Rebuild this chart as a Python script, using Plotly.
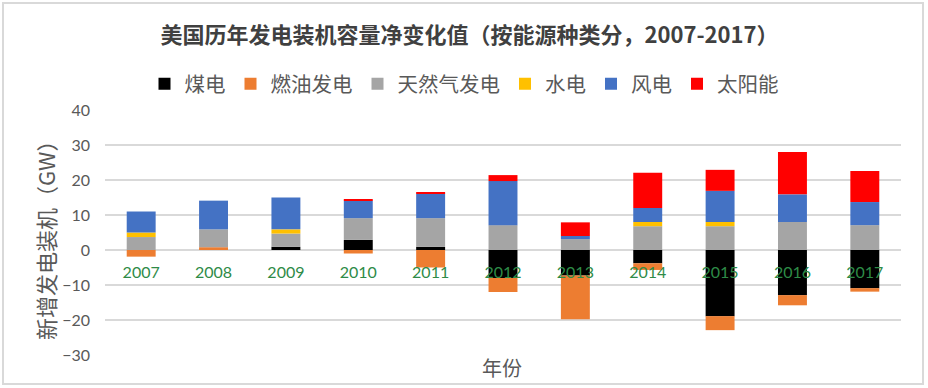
import plotly.graph_objects as go

years = ["2007", "2008", "2009", "2010", "2011", "2012", "2013", "2014", "2015", "2016", "2017"]
coal = [0.0, 0.0, 0.9, 2.9, 0.9, -8.0, -7.3, -3.8, -18.9, -12.9, -10.9]
oil = [-1.9, 0.8, 0.0, -1.0, -5.0, -4.0, -12.5, -1.9, -4.0, -2.9, -1.0]
gas = [3.7, 5.1, 3.8, 6.2, 8.2, 7.1, 3.1, 6.8, 6.8, 8.0, 7.1]
hydro = [1.3, 0.0, 1.2, 0.0, 0.0, 0.0, 0.0, 1.2, 1.2, 0.0, 0.0]
wind = [6.0, 8.2, 9.1, 5.0, 7.0, 12.6, 0.9, 4.0, 8.9, 7.9, 6.6]
solar = [0.0, 0.0, 0.0, 0.4, 0.3, 1.7, 3.9, 10.1, 6.0, 12.1, 8.9]

series = [
    ("煤电", coal, "#000000"),
    ("燃油发电", oil, "#ED7D31"),
    ("天然气发电", gas, "#A5A5A5"),
    ("水电", hydro, "#FFC000"),
    ("风电", wind, "#4472C4"),
    ("太阳能", solar, "#FF0000"),
]

CJK = "Noto Sans CJK SC"
NUM = "Lato, 'Noto Sans CJK SC'"

fig = go.Figure()
for name, vals, col in series:
    fig.add_trace(go.Bar(x=years, y=vals, name=name, marker=dict(color=col, line=dict(width=0)),
                         width=0.4))

ymin, ymax = -30, 40
fig.update_layout(
    width=928, height=388,
    barmode="relative",
    paper_bgcolor="white", plot_bgcolor="white",
    margin=dict(l=105, r=27, t=110, b=33, autoexpand=False),
    title=dict(text="<b>美国历年发电装机容量净变化值（按能源种类分，2007-2017）</b>",
               x=0.506, xanchor="center", y=1 - 35 / 388, yanchor="middle",
               font=dict(family=CJK, size=22, color="#404040")),
    legend=dict(orientation="h", xref="container", yref="container",
                x=0.5, xanchor="center", y=1 - 84 / 388, yanchor="middle",
                font=dict(family=CJK, size=20.5, color="#595959"),
                traceorder="normal", itemwidth=30),
    xaxis=dict(type="category", range=[-0.5, 10.5], anchor="free",
               position=(0 - ymin) / (ymax - ymin), showline=False, ticks="",
               showgrid=False, tickfont=dict(family=NUM, size=16, color="#2E8B47"),
               ticklabelstandoff=11),
    yaxis=dict(range=[ymin, ymax], dtick=10, showgrid=True, gridcolor="#D9D9D9", gridwidth=1.5,
               zeroline=True, zerolinecolor="#D9D9D9", zerolinewidth=1.5,
               showline=False, ticks="", ticklabelstandoff=14,
               tickfont=dict(family=NUM, size=16, color="#595959")),
    showlegend=True,
)

# y-axis title
fig.add_annotation(text="新增发电装机（GW）", xref="paper", yref="paper",
                   x=(45 - 105) / 796, y=(355 - 235) / 245, xanchor="center", yanchor="middle",
                   textangle=-90, showarrow=False,
                   font=dict(family=CJK, size=22, color="#595959"))
# x-axis title
fig.add_annotation(text="年份", xref="paper", yref="paper",
                   x=(502 - 105) / 796, y=(355 - 367) / 245, xanchor="center", yanchor="middle",
                   showarrow=False, font=dict(family=CJK, size=20, color="#595959"))
# outer frame
fig.add_shape(type="rect", xref="paper", yref="paper",
              x0=(3 - 105) / 796, x1=(923 - 105) / 796,
              y0=(355 - 384) / 245, y1=(355 - 3) / 245,
              line=dict(color="#D9D9D9", width=2), fillcolor="rgba(0,0,0,0)", layer="below")

fig.write_html("out.html", config={"displayModeBar": False},
               post_script="document.body.style.margin='0';")
